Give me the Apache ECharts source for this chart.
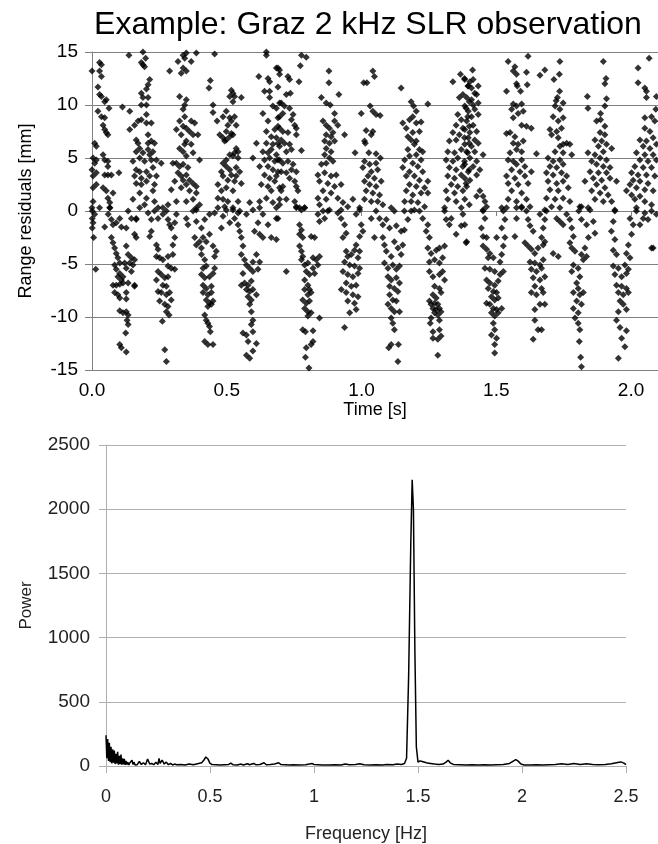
<!DOCTYPE html>
<html>
<head>
<meta charset="utf-8">
<title>Graz 2 kHz SLR observation</title>
<script src="https://cdn.jsdelivr.net/npm/echarts@6/dist/echarts.min.js"></script>
<style>
  html, body { margin: 0; padding: 0; background: #fff; }
  #chart { width: 658px; height: 844px; }
</style>
</head>
<body>
<div id="chart"></div>
<script>
const titleText = 'Example: Graz 2 kHz SLR observation';

const residualsAbove = [
  [0.000,13.2],[0.028,14.0],[0.035,13.8],[0.035,12.7],[0.028,13.2],[0.022,11.7],[0.028,11.0],[0.035,10.8],[0.047,10.3],[0.053,10.5],[0.063,9.7],[0.022,9.4],[0.035,8.9],[0.047,8.8],[0.041,8.1],[0.047,7.7],[0.053,7.4],[0.059,7.2],[0.010,6.4],[0.016,6.1],[0.004,5.0],[0.010,4.5],[0.016,4.8],[0.041,5.3],[0.047,4.8],[0.059,4.7],[0.059,4.2],[0.000,3.9],[0.004,3.3],[0.016,3.6],[0.047,3.4],[0.059,3.4],[0.072,3.4],[0.100,3.6],[0.004,2.2],[0.016,2.5],[0.041,2.2],[0.053,1.9],[0.078,1.7],[0.059,1.2],[0.004,0.9],[0.028,0.3],[0.066,0.8],[0.066,0.3],
  [0.137,14.7],[0.189,15.0],[0.199,14.4],[0.183,14.0],[0.195,13.6],[0.189,13.8],[0.214,12.4],[0.208,11.9],[0.202,11.5],[0.183,11.1],[0.189,10.7],[0.208,10.7],[0.183,10.0],[0.202,10.0],[0.113,9.8],[0.140,9.4],[0.158,8.1],[0.171,8.5],[0.183,8.6],[0.202,9.1],[0.202,8.3],[0.220,8.3],[0.140,7.7],[0.208,7.2],[0.164,6.7],[0.171,6.4],[0.208,6.4],[0.220,6.6],[0.232,6.4],[0.164,5.6],[0.177,5.9],[0.189,5.5],[0.208,5.8],[0.214,5.3],[0.226,5.6],[0.152,4.7],[0.177,5.0],[0.195,4.7],[0.220,4.8],[0.239,4.8],[0.257,4.5],[0.164,3.9],[0.177,3.7],[0.202,3.7],[0.226,4.1],[0.158,3.3],[0.183,3.1],[0.214,3.3],[0.239,3.3],[0.164,2.6],[0.183,2.5],[0.202,2.8],[0.232,2.5],[0.152,1.1],[0.177,1.7],[0.226,1.9],[0.202,1.2],[0.232,0.9],[0.245,0.3],[0.263,0.3],
  [0.319,14.1],[0.338,14.7],[0.350,14.9],[0.344,14.4],[0.368,14.1],[0.387,14.9],[0.288,13.2],[0.331,13.0],[0.338,13.5],[0.350,13.2],[0.325,10.8],[0.350,10.5],[0.344,10.0],[0.338,9.6],[0.344,8.9],[0.325,8.5],[0.368,8.5],[0.381,8.3],[0.338,8.0],[0.350,7.8],[0.313,7.7],[0.362,7.5],[0.375,7.2],[0.393,7.2],[0.331,7.2],[0.344,6.3],[0.350,6.6],[0.368,6.3],[0.325,5.9],[0.338,5.6],[0.375,5.5],[0.350,5.2],[0.399,4.8],[0.313,4.5],[0.325,4.2],[0.300,4.5],[0.338,4.4],[0.356,4.1],[0.319,3.6],[0.331,3.3],[0.350,3.4],[0.307,2.8],[0.338,2.9],[0.362,2.9],[0.350,2.5],[0.375,2.6],[0.387,2.3],[0.331,2.2],[0.362,1.9],[0.387,1.7],[0.294,2.0],[0.313,0.9],[0.350,0.9],[0.375,1.1],[0.399,0.6],[0.387,0.1],[0.282,0.6],
  [0.455,14.8],[0.439,12.3],[0.434,11.6],[0.449,10.0],[0.449,9.3],[0.464,8.5],[0.517,11.4],[0.523,11.1],[0.511,10.8],[0.529,10.8],[0.554,10.7],[0.523,10.3],[0.486,8.9],[0.498,9.4],[0.511,8.8],[0.517,8.5],[0.529,8.9],[0.535,8.1],[0.504,8.1],[0.498,7.5],[0.517,7.3],[0.523,7.2],[0.474,7.2],[0.486,6.9],[0.498,6.7],[0.511,7.0],[0.492,6.6],[0.535,5.9],[0.542,5.6],[0.529,5.5],[0.511,5.3],[0.523,5.2],[0.498,4.8],[0.486,4.5],[0.542,5.0],[0.498,4.2],[0.511,3.9],[0.535,4.1],[0.548,3.7],[0.480,3.7],[0.486,3.3],[0.517,3.4],[0.535,3.3],[0.504,2.9],[0.529,2.8],[0.554,2.6],[0.467,2.5],[0.480,1.9],[0.498,2.2],[0.523,1.9],[0.467,1.2],[0.486,1.1],[0.504,0.9],[0.542,0.9],[0.492,0.4],[0.523,0.3],[0.548,0.0],[0.585,0.8],[0.597,5.0],[0.610,6.4],
  [0.647,15.0],[0.647,14.7],[0.684,13.5],[0.696,13.3],[0.619,12.7],[0.653,12.5],[0.659,12.2],[0.640,11.3],[0.659,11.3],[0.659,10.7],[0.671,9.9],[0.684,9.7],[0.696,10.2],[0.634,9.2],[0.653,8.5],[0.690,8.8],[0.647,7.5],[0.678,7.7],[0.696,7.8],[0.665,7.0],[0.684,6.9],[0.647,6.4],[0.671,6.3],[0.690,6.4],[0.634,5.6],[0.653,5.5],[0.665,5.8],[0.684,5.3],[0.640,4.8],[0.659,5.0],[0.678,4.7],[0.696,4.8],[0.622,4.2],[0.653,4.2],[0.671,3.9],[0.690,3.7],[0.640,3.4],[0.659,3.1],[0.684,3.3],[0.628,2.5],[0.653,2.3],[0.678,2.8],[0.665,1.9],[0.696,2.2],[0.622,0.9],[0.647,1.2],[0.671,0.8],[0.684,0.3],[0.696,0.6],
  [0.721,15.1],[0.777,14.7],[0.795,14.5],[0.773,13.7],[0.690,13.5],[0.696,12.9],[0.727,12.7],[0.733,12.4],[0.768,12.2],[0.690,11.7],[0.721,11.0],[0.736,11.1],[0.702,10.2],[0.714,9.9],[0.733,9.7],[0.746,9.1],[0.708,9.2],[0.696,8.9],[0.740,8.6],[0.752,8.1],[0.758,7.8],[0.690,8.0],[0.708,7.5],[0.727,7.4],[0.758,7.2],[0.702,6.7],[0.714,6.4],[0.733,6.3],[0.740,5.8],[0.721,5.6],[0.777,5.7],[0.696,6.1],[0.690,4.8],[0.708,4.5],[0.727,4.7],[0.746,4.4],[0.702,3.7],[0.721,3.6],[0.740,3.9],[0.758,3.7],[0.733,3.1],[0.752,2.8],[0.708,2.3],[0.758,2.3],[0.702,1.9],[0.764,1.9],[0.696,1.1],[0.721,1.1],[0.752,0.9],[0.758,0.4],[0.770,0.3],[0.789,0.3],
  [0.879,13.2],[0.879,12.1],[0.851,10.7],[0.869,10.2],[0.884,10.0],[0.916,11.0],[0.900,9.2],[0.857,8.5],[0.869,8.1],[0.900,8.5],[0.912,8.1],[0.881,7.8],[0.894,7.4],[0.869,7.2],[0.887,7.0],[0.937,7.2],[0.863,6.6],[0.881,6.4],[0.900,6.6],[0.869,5.9],[0.887,5.6],[0.863,5.3],[0.881,5.0],[0.894,4.7],[0.869,4.5],[0.851,4.4],[0.838,3.4],[0.863,3.6],[0.887,3.3],[0.906,3.4],[0.844,2.8],[0.875,2.6],[0.900,2.3],[0.924,2.5],[0.857,1.9],[0.887,1.7],[0.838,1.2],[0.869,1.1],[0.912,1.2],[0.931,0.8],[0.844,0.6],[0.881,0.1],[0.924,0.1],[0.968,1.1],
  [1.042,13.2],[1.048,12.7],[1.008,12.1],[1.020,12.1],[1.032,9.9],[1.042,9.4],[1.054,9.1],[1.069,9.0],[0.999,9.2],[1.042,7.5],[1.036,7.2],[1.017,7.6],[1.011,6.6],[1.014,6.4],[0.976,5.5],[1.027,5.5],[1.054,5.4],[1.070,5.0],[1.011,4.7],[1.030,4.4],[1.054,4.5],[1.005,4.1],[1.036,3.7],[1.060,3.9],[1.024,3.3],[1.048,3.1],[1.073,2.8],[1.011,2.8],[1.030,2.5],[1.054,2.3],[1.017,1.9],[1.042,1.7],[1.067,1.5],[1.011,1.1],[1.036,0.9],[1.060,0.9],[1.079,0.6],[0.993,0.3],[1.110,0.3],
  [1.147,11.6],[1.184,10.3],[1.193,9.9],[1.246,10.1],[1.203,9.4],[1.190,8.9],[1.178,8.6],[1.153,8.3],[1.166,7.8],[1.203,8.3],[1.221,8.4],[1.190,7.4],[1.215,7.5],[1.172,7.0],[1.184,6.7],[1.203,6.6],[1.196,6.3],[1.215,5.8],[1.227,5.6],[1.172,5.8],[1.178,5.2],[1.203,5.3],[1.221,4.8],[1.160,4.8],[1.190,4.5],[1.209,4.2],[1.153,4.1],[1.178,3.7],[1.227,3.7],[1.166,3.3],[1.196,3.3],[1.215,2.9],[1.246,2.8],[1.178,2.5],[1.203,2.3],[1.234,2.2],[1.166,1.9],[1.190,1.5],[1.221,1.7],[1.246,1.7],[1.160,0.9],[1.184,0.9],[1.209,0.8],[1.234,0.4],[1.196,0.1],
  [1.339,12.2],[1.367,12.9],[1.382,12.5],[1.395,11.8],[1.363,10.7],[1.376,11.0],[1.400,10.3],[1.388,9.7],[1.357,9.1],[1.370,8.6],[1.394,8.9],[1.351,8.1],[1.376,7.8],[1.400,8.0],[1.339,7.4],[1.363,7.2],[1.326,6.6],[1.351,6.7],[1.382,6.9],[1.400,6.4],[1.320,5.6],[1.345,5.5],[1.370,5.8],[1.394,5.5],[1.314,4.8],[1.339,4.7],[1.357,5.0],[1.382,4.7],[1.326,4.1],[1.351,3.9],[1.376,4.2],[1.400,3.9],[1.320,3.3],[1.345,3.1],[1.370,3.4],[1.333,2.5],[1.357,2.3],[1.388,2.6],[1.314,1.9],[1.345,1.7],[1.376,1.9],[1.320,1.1],[1.351,0.9],[1.370,0.3],[1.308,0.3],[1.400,0.6],
  [1.412,13.3],[1.383,12.4],[1.402,12.2],[1.414,12.4],[1.396,11.8],[1.408,11.6],[1.433,11.8],[1.420,11.1],[1.390,10.7],[1.408,10.5],[1.427,11.0],[1.414,10.0],[1.433,10.2],[1.383,9.9],[1.396,9.4],[1.420,9.6],[1.408,8.9],[1.433,9.1],[1.390,8.5],[1.414,8.1],[1.383,7.7],[1.402,7.4],[1.427,7.5],[1.396,6.9],[1.420,6.7],[1.433,6.4],[1.383,6.3],[1.408,6.1],[1.390,5.6],[1.420,5.6],[1.451,5.3],[1.402,5.0],[1.427,4.7],[1.383,4.4],[1.414,4.2],[1.439,3.9],[1.396,3.7],[1.427,3.4],[1.383,3.1],[1.402,2.9],[1.390,2.3],[1.439,1.9],[1.451,1.4],[1.427,1.4],[1.458,0.9],[1.383,1.1],[1.464,0.4],[1.451,0.1],
  [1.618,14.6],[1.544,14.1],[1.569,13.6],[1.563,13.2],[1.575,12.9],[1.612,13.1],[1.575,12.0],[1.578,11.8],[1.615,11.9],[1.538,11.3],[1.590,11.3],[1.563,10.1],[1.575,9.9],[1.594,10.1],[1.557,9.6],[1.581,9.2],[1.600,9.4],[1.563,8.8],[1.594,8.1],[1.612,8.0],[1.630,7.8],[1.538,7.3],[1.551,7.4],[1.569,7.0],[1.563,6.4],[1.581,6.3],[1.600,6.6],[1.575,5.8],[1.594,5.6],[1.551,5.5],[1.649,5.4],[1.544,4.8],[1.563,4.7],[1.594,4.8],[1.575,4.4],[1.606,4.2],[1.557,3.9],[1.588,3.7],[1.630,3.7],[1.538,3.3],[1.569,3.1],[1.606,3.3],[1.544,2.6],[1.581,2.5],[1.618,2.6],[1.557,1.9],[1.594,1.7],[1.544,1.1],[1.575,0.9],[1.612,1.1],[1.538,0.3],[1.594,0.3],[1.625,0.4],[1.520,0.3],
  [1.736,14.1],[1.680,13.3],[1.662,12.8],[1.714,12.4],[1.734,12.9],[1.735,11.3],[1.727,10.7],[1.722,10.4],[1.748,10.2],[1.718,9.9],[1.736,9.6],[1.711,8.9],[1.730,8.5],[1.748,8.8],[1.699,7.7],[1.724,7.5],[1.742,7.8],[1.705,7.2],[1.730,6.9],[1.748,6.3],[1.761,6.4],[1.773,6.3],[1.736,6.1],[1.718,5.6],[1.748,5.5],[1.780,5.3],[1.692,5.0],[1.711,4.7],[1.736,4.8],[1.699,4.2],[1.724,4.1],[1.748,4.4],[1.686,3.6],[1.711,3.4],[1.742,3.6],[1.761,3.3],[1.692,2.8],[1.724,2.6],[1.748,2.8],[1.699,2.0],[1.730,1.9],[1.767,2.2],[1.686,1.2],[1.718,1.1],[1.748,1.2],[1.773,0.9],[1.705,0.4],[1.736,0.3],[1.810,0.4],[1.680,0.1],
  [1.897,14.1],[1.907,12.5],[1.903,12.0],[1.838,10.8],[1.909,10.6],[1.840,9.7],[1.903,9.9],[1.887,9.2],[1.872,8.5],[1.887,8.6],[1.903,8.0],[1.885,7.4],[1.903,7.2],[1.866,6.7],[1.891,6.6],[1.909,6.3],[1.879,6.1],[1.928,5.9],[1.897,5.6],[1.840,5.5],[1.866,5.3],[1.885,5.0],[1.909,4.8],[1.854,4.7],[1.872,4.4],[1.897,4.2],[1.922,4.1],[1.848,3.7],[1.879,3.6],[1.909,3.6],[1.860,3.1],[1.891,2.9],[1.922,3.1],[1.946,2.8],[1.829,2.8],[1.872,2.5],[1.903,2.2],[1.854,1.9],[1.885,1.7],[1.915,1.5],[1.866,1.1],[1.897,0.9],[1.928,0.9],[1.841,0.3],[1.940,0.1],[1.816,0.4],
  [2.067,14.4],[2.026,13.5],[2.026,12.1],[2.051,11.6],[2.057,11.3],[2.057,10.7],[2.094,10.8],[2.092,9.6],[2.076,8.9],[2.051,8.8],[2.088,8.5],[2.051,7.8],[2.070,7.5],[2.033,6.7],[2.057,6.6],[2.082,6.9],[2.094,6.3],[2.045,6.1],[2.070,5.9],[2.020,5.5],[2.051,5.3],[2.082,5.3],[2.033,4.8],[2.063,4.7],[2.094,4.8],[2.014,4.2],[2.045,4.1],[2.076,4.1],[2.002,3.6],[2.026,3.4],[2.057,3.4],[2.088,3.3],[2.008,2.9],[2.033,2.8],[2.063,2.6],[1.996,2.5],[2.020,2.2],[2.051,2.0],[2.082,1.9],[2.002,1.5],[2.033,1.4],[1.983,1.9],[2.014,1.1],[2.051,0.9],[2.020,0.3],[2.076,0.6]
];

const residualsBelow = [
  [0.001,0],[0.001,-0.7],[0.004,-1.1],[0.001,-1.6],[0.006,-2.5],[0.014,-5.5],[0.010,-0.3],[0.000,0.3],[0.066,0.3],[0.060,-0.3],[0.072,-0.8],[0.078,-1.3],[0.047,-1.5],[0.090,-1.1],[0.103,-0.7],[0.109,-1.5],[0.127,-1.6],[0.146,-0.7],[0.164,-0.8],[0.134,0],
  [0.072,-2.5],[0.078,-3.0],[0.084,-3.5],[0.090,-4.0],[0.096,-4.4],[0.103,-4.9],[0.084,-5.1],[0.090,-5.5],[0.103,-5.9],[0.096,-6.2],[0.109,-6.5],[0.115,-6.2],[0.127,-3.3],[0.134,-4.1],[0.146,-4.4],[0.140,-4.9],[0.152,-5.1],[0.158,-4.6],[0.121,-4.9],[0.127,-5.4],[0.146,-5.7],[0.158,-2.2],[0.164,-2.5],[0.158,-7.0],[0.158,-7.1],[0.078,-7.0],[0.090,-7.0],[0.103,-6.9],[0.115,-6.8],[0.134,-6.8],[0.084,-7.7],[0.096,-7.9],[0.103,-8.2],[0.127,-7.7],[0.127,-8.3],[0.103,-9.4],[0.115,-9.6],[0.127,-9.5],[0.134,-9.8],[0.130,-10.3],[0.134,-10.7],[0.125,-11.5],[0.103,-12.6],[0.109,-12.9],[0.127,-13.3],
  [0.208,-0.2],[0.220,-0.8],[0.232,0],[0.245,-0.7],[0.263,-0.3],[0.282,-0.8],[0.307,-1.1],[0.313,-0.3],[0.214,-2.4],[0.220,-1.9],[0.288,-1.3],[0.294,-1.6],[0.307,-2.5],[0.276,0],[0.177,0.3],[0.164,-0.7],[0.195,0.6],
  [0.239,-3.2],[0.245,-3.6],[0.239,-4.3],[0.251,-4.4],[0.263,-4.6],[0.282,-4.3],[0.300,-4.1],[0.300,-3.2],[0.282,-5.2],[0.294,-5.4],[0.307,-5.5],[0.245,-5.7],[0.257,-6.0],[0.270,-6.3],[0.282,-6.2],[0.239,-6.5],[0.263,-7.0],[0.276,-7.1],[0.245,-7.6],[0.257,-7.7],[0.276,-7.9],[0.288,-7.7],[0.294,-8.4],[0.251,-8.5],[0.270,-8.8],[0.282,-9.0],[0.276,-9.5],[0.286,-9.8],[0.261,-10.4],[0.270,-13.1],[0.276,-14.2],
  [0.350,-0.7],[0.356,-1.3],[0.375,0],[0.387,0.3],[0.387,-1.0],[0.406,-1.6],[0.418,-0.8],[0.436,-0.3],[0.455,-0.2],[0.467,0.3],[0.480,-1.6],[0.486,-0.5],[0.498,0.1],[0.511,-1.1],
  [0.381,-2.5],[0.387,-3.2],[0.399,-2.9],[0.406,-3.5],[0.412,-2.5],[0.424,-2.9],[0.436,-2.2],[0.449,-3.3],[0.455,-4.3],[0.461,-3.8],[0.406,-4.1],[0.418,-4.6],[0.412,-5.4],[0.424,-5.2],[0.406,-6.0],[0.418,-6.3],[0.436,-6.2],[0.449,-5.9],[0.455,-5.4],[0.412,-7.0],[0.424,-7.3],[0.443,-7.1],[0.412,-7.7],[0.430,-7.9],[0.443,-7.7],[0.424,-8.4],[0.436,-8.7],[0.449,-8.5],[0.430,-9.0],[0.443,-8.8],[0.418,-9.8],[0.424,-10.3],[0.430,-10.6],[0.436,-10.9],[0.439,-11.4],[0.418,-12.3],[0.430,-12.6],[0.449,-12.6],
  [0.523,0.1],[0.529,-0.7],[0.542,-1.3],[0.548,-1.9],[0.554,-2.5],[0.560,-3.3],[0.542,-0.2],[0.573,-0.3],[0.597,0.1],[0.622,0.3],[0.634,-0.3],[0.616,-1.1],[0.603,-1.9],[0.622,-2.2],[0.634,-2.5],[0.665,-2.5],[0.684,-0.7],[0.653,-1.3],
  [0.554,-4.1],[0.566,-4.6],[0.573,-5.1],[0.585,-5.4],[0.597,-4.8],[0.610,-4.1],[0.622,-4.8],[0.616,-5.5],[0.597,-5.7],[0.560,-5.9],[0.554,-7.0],[0.566,-6.8],[0.579,-7.0],[0.591,-6.6],[0.573,-7.4],[0.585,-7.6],[0.597,-7.4],[0.579,-8.1],[0.591,-8.4],[0.610,-7.9],[0.585,-8.8],[0.591,-9.5],[0.597,-10.3],[0.591,-10.7],[0.560,-11.5],[0.573,-11.7],[0.597,-11.4],[0.579,-12.3],[0.610,-12.5],[0.573,-13.6],[0.585,-13.9],[0.597,-13.2],[0.690,-0.7],[0.684,-2.7],
  [0.721,-5.7],[0.758,0.3],[0.777,0.1],[0.789,0.3],[0.770,-1.3],[0.777,-1.8],[0.770,-2.2],[0.782,-2.5],[0.813,-2.4],[0.826,-2.5],[0.838,-0.3],[0.857,0],[0.844,-1.0],[0.863,-0.7],[0.875,0],
  [0.770,-3.3],[0.777,-3.8],[0.782,-4.3],[0.777,-4.6],[0.789,-5.1],[0.801,-4.9],[0.820,-4.4],[0.832,-4.6],[0.844,-4.3],[0.838,-5.1],[0.820,-5.4],[0.795,-5.7],[0.807,-6.0],[0.826,-5.9],[0.789,-6.5],[0.801,-7.0],[0.807,-7.4],[0.789,-7.4],[0.801,-7.9],[0.813,-7.7],[0.782,-8.4],[0.795,-8.7],[0.807,-8.5],[0.789,-9.2],[0.801,-9.5],[0.813,-9.6],[0.844,-10.1],[0.801,-9.9],[0.782,-11.2],[0.792,-11.4],[0.820,-11.3],[0.820,-12.3],[0.813,-12.6],[0.795,-12.9],[0.792,-13.8],[0.805,-14.8],
  [0.912,-0.2],[0.924,-0.7],[0.937,-1.3],[0.943,-2.1],[0.931,-2.5],[0.949,0.4],[0.980,-0.3],[0.993,0.1],[0.999,-1.3],[1.005,-1.9],[0.993,-2.4],[1.048,-2.5],[1.036,-0.7],
  [0.943,-3.8],[0.949,-4.3],[0.962,-4.1],[0.974,-3.7],[0.980,-3.2],[0.987,-4.4],[0.993,-3.8],[0.937,-4.8],[0.956,-5.1],[0.974,-5.2],[0.931,-5.7],[0.949,-6.0],[0.968,-6.2],[0.987,-5.9],[0.993,-5.4],[0.943,-6.8],[0.962,-7.1],[0.980,-7.0],[0.925,-7.4],[0.943,-7.7],[0.968,-7.9],[0.987,-8.1],[0.949,-8.5],[0.974,-8.7],[0.980,-9.3],[0.956,-9.6],[0.937,-11.0],
  [1.054,0],[1.067,-0.7],[1.079,-1.3],[1.092,-0.8],[1.104,-1.6],[1.122,0],[1.129,-1.4],[1.147,-1.9],[1.159,-1.8],[1.159,0],[1.172,-0.8],[1.184,0],
  [1.079,-2.5],[1.085,-3.2],[1.092,-3.8],[1.122,-2.9],[1.135,-3.5],[1.147,-4.1],[1.153,-3.2],[1.110,-4.3],[1.085,-4.9],[1.098,-5.4],[1.116,-5.1],[1.129,-5.5],[1.141,-5.2],[1.098,-6.2],[1.110,-6.5],[1.129,-6.3],[1.141,-6.8],[1.104,-7.1],[1.122,-7.3],[1.135,-7.6],[1.104,-7.9],[1.116,-8.4],[1.129,-8.5],[1.098,-8.8],[1.110,-9.2],[1.122,-9.5],[1.141,-9.5],[1.110,-10.1],[1.116,-10.6],[1.122,-11.2],[1.110,-12.6],[1.101,-12.9],[1.137,-12.6],[1.135,-14.2],
  [1.215,0],[1.227,-0.7],[1.246,-1.3],[1.240,-1.9],[1.252,-2.5],[1.308,0],[1.314,-0.8],[1.326,-1.3],[1.351,-2.2],[1.333,-0.7],[1.370,-1.4],[1.388,-3.0],[1.376,-0.3],
  [1.246,-3.5],[1.258,-4.0],[1.277,-3.7],[1.289,-3.5],[1.308,-3.3],[1.252,-4.8],[1.271,-4.6],[1.289,-4.9],[1.301,-4.4],[1.252,-5.7],[1.265,-6.2],[1.289,-6.0],[1.301,-5.7],[1.308,-6.5],[1.271,-7.1],[1.289,-7.3],[1.295,-7.7],[1.265,-7.9],[1.277,-8.2],[1.252,-8.5],[1.258,-8.8],[1.271,-8.7],[1.283,-8.8],[1.265,-9.2],[1.277,-9.3],[1.289,-9.2],[1.271,-9.6],[1.283,-9.8],[1.295,-9.5],[1.258,-10.1],[1.289,-10.3],[1.255,-10.6],[1.265,-11.4],[1.289,-11.2],[1.265,-12.0],[1.283,-12.1],[1.295,-11.8],[1.283,-13.6],
  [1.383,-1.3],[1.390,-2.9],[1.451,0],[1.458,-0.7],[1.445,-1.6],[1.451,-2.4],[1.464,-2.5],[1.526,0],[1.532,-0.8],[1.520,-1.6],[1.532,-2.5],[1.501,-2.5],[1.569,-2.4],[1.575,-0.7],
  [1.451,-3.3],[1.464,-3.6],[1.476,-4.0],[1.489,-4.4],[1.470,-4.4],[1.526,-3.3],[1.520,-4.1],[1.514,-4.8],[1.458,-5.4],[1.476,-5.5],[1.494,-5.7],[1.514,-6.0],[1.526,-5.7],[1.464,-6.5],[1.476,-6.8],[1.494,-7.0],[1.507,-6.6],[1.470,-7.3],[1.489,-7.6],[1.501,-7.7],[1.482,-8.1],[1.494,-8.4],[1.507,-8.2],[1.464,-8.7],[1.476,-8.8],[1.489,-9.2],[1.501,-9.3],[1.520,-9.2],[1.482,-9.6],[1.494,-9.9],[1.507,-9.6],[1.489,-10.6],[1.494,-11.2],[1.482,-11.7],[1.501,-12.0],[1.494,-12.6],[1.494,-13.4],
  [1.575,0.3],[1.594,0.4],[1.612,0],[1.618,-0.8],[1.625,-1.4],[1.637,-1.9],[1.662,-0.3],[1.680,-0.8],[1.674,-1.6],[1.668,-2.5],[1.680,-2.9],[1.606,-3.0],[1.711,-4.0],[1.730,-4.3],[1.686,0],[1.724,-0.7],[1.736,-1.0],[1.748,-1.3],
  [1.618,-3.3],[1.630,-3.6],[1.643,-4.0],[1.655,-3.5],[1.674,-3.2],[1.625,-4.8],[1.643,-4.9],[1.662,-5.1],[1.674,-4.6],[1.630,-5.5],[1.649,-5.7],[1.668,-5.4],[1.637,-6.3],[1.662,-6.5],[1.680,-6.2],[1.643,-7.1],[1.668,-7.3],[1.630,-7.7],[1.649,-7.9],[1.674,-7.7],[1.662,-8.8],[1.680,-8.8],[1.643,-9.3],[1.643,-10.3],[1.655,-11.2],[1.668,-11.2],[1.637,-12.1],
  [1.761,-0.3],[1.773,-0.8],[1.780,-1.6],[1.786,-2.4],[1.806,0],[1.816,-0.8],[1.835,-1.3],[1.848,0.1],[1.860,-1.0],[1.866,-2.1],[1.842,-2.5],[1.829,-3.5],
  [1.773,-3.0],[1.780,-3.5],[1.792,-3.8],[1.816,-4.1],[1.835,-4.3],[1.823,-4.6],[1.786,-5.1],[1.804,-5.4],[1.780,-5.7],[1.810,-6.2],[1.798,-6.8],[1.804,-7.3],[1.786,-7.7],[1.810,-7.9],[1.823,-7.7],[1.798,-8.5],[1.816,-8.8],[1.786,-9.2],[1.804,-9.6],[1.792,-10.1],[1.804,-10.6],[1.810,-11.2],[1.808,-12.3],[1.813,-13.8],[1.816,-14.7],
  [1.940,0],[1.934,-1.0],[1.927,-1.9],[1.940,-2.7],[1.996,-0.7],[2.008,-1.3],[2.002,-2.2],[2.020,0],[2.045,-0.7],[1.990,-3.2],[2.076,-3.5],[2.051,-0.2],
  [1.934,-3.7],[1.946,-4.1],[1.983,-4.0],[1.996,-4.4],[1.934,-5.2],[1.953,-5.4],[1.977,-5.1],[1.990,-5.5],[1.940,-6.0],[1.965,-6.2],[1.983,-5.9],[1.946,-7.0],[1.965,-7.1],[1.983,-7.3],[1.953,-7.7],[1.971,-7.9],[1.990,-7.7],[1.959,-8.5],[1.971,-8.8],[1.953,-9.5],[1.983,-9.3],[1.946,-10.3],[1.959,-11.0],[1.983,-11.3],[1.965,-12.0],[1.977,-12.8],[1.953,-13.9],
  [2.033,-1.3],[2.063,-0.8],[2.076,0],[2.094,-0.3],[2.082,-3.5]
];

// power spectrum, [frequency Hz, power]
const spectrum = [
  [0,240],[0.004,60],[0.008,210],[0.012,40],[0.016,180],[0.02,30],[0.024,150],[0.028,20],[0.032,130],[0.036,25],[0.04,120],[0.044,15],[0.048,95],[0.052,20],[0.056,110],[0.06,10],[0.064,80],[0.068,15],[0.072,90],[0.076,10],[0.08,60],[0.084,12],[0.088,55],[0.092,8],[0.096,40],[0.1,10],[0.105,30],[0.11,8],[0.115,25],[0.12,10],[0.125,45],[0.13,12],[0.135,30],[0.14,8],[0.145,20],[0.15,10],
  [0.16,35],[0.17,12],[0.18,25],[0.19,10],[0.2,55],[0.21,15],[0.22,20],[0.23,10],[0.24,30],[0.25,12],[0.255,60],[0.26,20],[0.27,45],[0.28,15],[0.29,30],[0.3,10],[0.31,20],[0.32,8],[0.33,15],[0.34,10],[0.36,12],[0.38,8],[0.4,15],[0.42,10],[0.44,18],[0.46,25],[0.47,45],[0.48,70],[0.49,55],[0.5,20],
  [0.51,12],[0.53,10],[0.55,8],[0.57,10],[0.59,12],[0.6,22],[0.61,10],[0.63,8],[0.65,15],[0.66,8],[0.68,18],[0.69,10],[0.71,20],[0.72,10],[0.74,12],[0.76,25],[0.77,10],[0.79,12],[0.81,15],[0.83,25],[0.84,12],[0.86,10],[0.88,8],[0.9,10],[0.93,8],[0.96,10],[0.99,20],[1,12],
  [1.02,10],[1.04,8],[1.07,8],[1.1,10],[1.13,8],[1.15,15],[1.17,10],[1.2,12],[1.22,18],[1.24,10],[1.27,8],[1.3,10],[1.33,8],[1.35,12],[1.38,10],[1.4,15],[1.42,12],[1.435,20],
  [1.445,60],[1.455,700],[1.465,1700],[1.472,2230],[1.478,2000],[1.485,900],[1.492,150],[1.5,30],[1.51,40],[1.52,35],[1.54,25],[1.56,20],[1.58,15],[1.6,12],[1.62,15],[1.635,30],[1.645,45],[1.655,25],[1.67,12],
  [1.7,10],[1.73,8],[1.76,10],[1.79,8],[1.82,10],[1.85,8],[1.88,10],[1.91,12],[1.94,20],[1.96,40],[1.97,50],[1.98,40],[1.995,15],[2.01,8],[2.04,8],[2.07,10],[2.1,8],[2.13,10],[2.16,12],[2.19,18],
  [2.22,12],[2.25,20],[2.28,12],[2.31,18],[2.34,12],[2.37,10],[2.4,12],[2.43,18],[2.46,28],[2.475,32],[2.49,22],[2.5,10]
];

const font = 'Liberation Sans, Arial, sans-serif';
const chart = echarts.init(document.getElementById('chart'));

chart.setOption({
  animation: false,
  backgroundColor: '#fff',
  title: {
    text: titleText,
    left: 363,
    top: 4,
    textAlign: 'center',
    textStyle: { fontSize: 32, fontWeight: 'normal', color: '#000', fontFamily: font }
  },
  grid: [
    { left: 92, top: 52, width: 566, height: 318 },
    { left: 106, top: 445, width: 520, height: 327 }
  ],
  xAxis: [
    {
      gridIndex: 0, type: 'value', min: 0, max: 2.1, interval: 0.5,
      name: 'Time [s]', nameLocation: 'middle', nameGap: 30,
      nameTextStyle: { fontSize: 18, color: '#000', fontFamily: font },
      axisLine: { show: true, lineStyle: { color: '#808080', width: 1 } },
      axisTick: { show: true, length: 5, lineStyle: { color: '#808080' } },
      axisLabel: { margin: 11, fontSize: 19, color: '#000', fontFamily: font, showMaxLabel: false,
        formatter: v => v.toFixed(1) },
      splitLine: { show: false }
    },
    {
      gridIndex: 1, type: 'value', min: 0, max: 2.5, interval: 0.5,
      name: 'Frequency [Hz]', nameLocation: 'middle', nameGap: 59,
      nameTextStyle: { fontSize: 18, color: '#222', fontFamily: font },
      axisLine: { show: true, onZero: false, lineStyle: { color: '#b0b0b0', width: 1 } },
      axisTick: { show: true, length: 7, lineStyle: { color: '#b0b0b0' } },
      axisLabel: { margin: 22, fontSize: 18, color: '#222', fontFamily: font, formatter: v => String(v) },
      splitLine: { show: false }
    }
  ],
  yAxis: [
    {
      gridIndex: 0, type: 'value', min: -15, max: 15, interval: 5,
      name: 'Range residuals [mm]', nameLocation: 'middle', nameGap: 57,
      nameTextStyle: { fontSize: 18, color: '#000', fontFamily: font },
      axisLine: { show: true, lineStyle: { color: '#808080', width: 1 } },
      axisTick: { show: true, length: 7, lineStyle: { color: '#808080' } },
      axisLabel: { margin: 14, fontSize: 19, color: '#000', fontFamily: font },
      splitLine: { show: true, lineStyle: { color: '#808080', width: 1 } }
    },
    {
      gridIndex: 1, type: 'value', min: 0, max: 2500, interval: 500,
      name: 'Power', nameLocation: 'middle', nameGap: 71,
      nameTextStyle: { fontSize: 17, color: '#222', fontFamily: font },
      axisLine: { show: true, lineStyle: { color: '#b0b0b0', width: 1 } },
      axisTick: { show: true, length: 7, lineStyle: { color: '#b0b0b0' } },
      axisLabel: { margin: 16, fontSize: 19, color: '#222', fontFamily: font, formatter: v => String(v) },
      splitLine: { show: true, lineStyle: { color: '#b0b0b0', width: 1 } }
    }
  ],
  series: [
    {
      type: 'scatter', xAxisIndex: 0, yAxisIndex: 0,
      data: residualsAbove.concat(residualsBelow),
      symbol: 'diamond', symbolSize: 7,
      itemStyle: { color: '#000' }
    },
    {
      type: 'line', xAxisIndex: 1, yAxisIndex: 1,
      data: spectrum,
      showSymbol: false,
      lineStyle: { color: '#000', width: 1.5 }
    }
  ]
});
</script>
</body>
</html>
